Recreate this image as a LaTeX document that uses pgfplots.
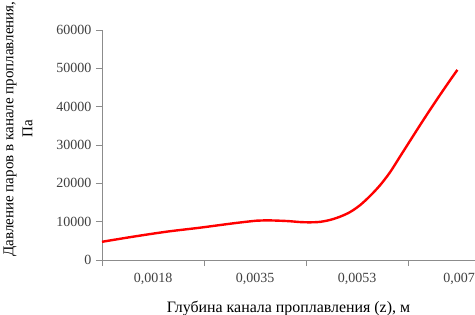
\documentclass[border=0pt]{standalone}
\usepackage{pgfplots}
\pgfplotsset{compat=1.18}
\usepackage{fontspec}
\setmainfont{Liberation Serif}
\definecolor{axgray}{HTML}{8C8C8C}
\definecolor{tickgray}{HTML}{404040}
\begin{document}
\begin{tikzpicture}
\begin{axis}[
  name=ax,
  scale only axis,
  width=373pt, height=230pt,
  xmin=0.000933, xmax=0.00727,
  ymin=0, ymax=60000,
  axis x line*=bottom, axis y line*=left,
  axis line style={axgray, line width=0.6pt},
  xtick={0.0018,0.0035333,0.0052667,0.007},
  xticklabels={{0,0018},{0,0035},{0,0053},{0,007}},
  minor xtick={0.000933,0.0026663,0.0043996,0.0061329},
  ytick={0,10000,20000,30000,40000,50000,60000},
  tick align=outside,
  major x tick style={draw=none},
  minor x tick style={axgray, line width=0.6pt},
  minor tick length=6pt,
  major y tick style={axgray, line width=0.6pt},
  major tick length=6pt,
  /pgf/number format/assume math mode=true,
  /pgf/number format/1000 sep={},
  scaled y ticks=false, scaled x ticks=false,
  tick label style={font=\fontsize{14}{15}\selectfont, text=tickgray},
  xticklabel style={yshift=-4pt},
  yticklabel style={xshift=-1pt},
  xlabel={Глубина канала проплавления (z), м},
  xlabel style={font=\fontsize{15.9}{16}\selectfont, at={(axis description cs:0.5,0)}, anchor=base, yshift=-52pt},
  ylabel={Давление паров в канале проплавления,\\Па},
  every axis y label/.style={at={([xshift=-84pt]axis description cs:0,0.57)}, rotate=90, anchor=center, align=center, font=\fontsize{15}{19}\selectfont},
  clip=false,
]
\addplot[red, line width=2.4pt, smooth, tension=0.5] coordinates {
(0.000933,4750)
(0.001465,6090)
(0.002032,7390)
(0.002598,8430)
(0.003164,9570)
(0.003562,10260)
(0.003732,10350)
(0.004072,10170)
(0.004298,9900)
(0.004468,9830)
(0.004637,9950)
(0.004807,10450)
(0.004977,11300)
(0.005147,12500)
(0.005317,14300)
(0.005487,16700)
(0.005657,19500)
(0.005827,22900)
(0.005997,27000)
(0.006167,31100)
(0.006337,35200)
(0.006507,39200)
(0.006677,43100)
(0.006847,46900)
(0.006971,49600)
};
\end{axis}
\pgfresetboundingbox
\path[use as bounding box] ([xshift=-102pt,yshift=-54pt]ax.south west) rectangle ([yshift=30pt]ax.north east);
\end{tikzpicture}
\end{document}
